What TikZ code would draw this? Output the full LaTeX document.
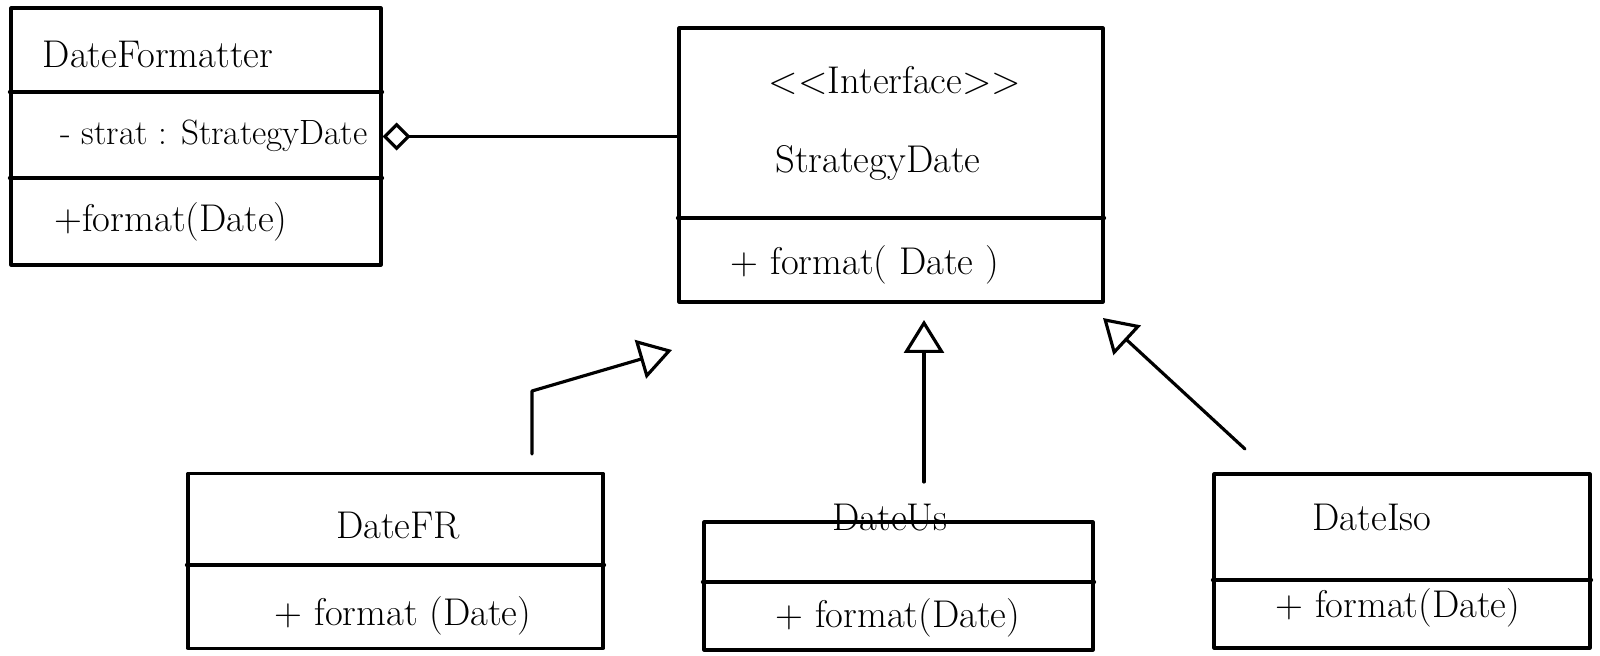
\documentclass[tikz,border=0pt]{standalone}
\usetikzlibrary{arrows.meta}

\begin{document}
\begin{tikzpicture}[x=0.02cm, y=-0.02cm, line width=1.8pt, line cap=round, line join=round,
 cls/.style = {shape=rectangle, draw},
 txt/.style = {font=\fontsize{22}{26}\selectfont},
 real/.style = {-{Triangle[open, length=0.66cm, width=0.8cm]}},
 aggr/.style = {{Diamond[open, length=0.56cm, width=0.56cm]}-}]
 \useasboundingbox (0,0) rectangle (1600,656);

 % classes
 \node (fmt)[cls, minimum width=7.4cm, minimum height=5.14cm] at (196,136.5) {};
 \node (iface)[cls, minimum width=8.48cm, minimum height=5.48cm] at (891,165) {};
 \node (fr)[cls, minimum width=8.3cm, minimum height=3.5cm] at (395.5,561) {};
 \node (us)[cls, minimum width=7.78cm, minimum height=2.56cm] at (898.5,586) {};
 \node (iso)[cls, minimum width=7.52cm, minimum height=3.48cm] at (1402,561) {};

 % compartments
 \draw (fmt.west |- 0,92) -- (fmt.east |- 0,92);
 \draw (fmt.west |- 0,178) -- (fmt.east |- 0,178);
 \draw (iface.west |- 0,218) -- (iface.east |- 0,218);
 \draw (fr.west |- 0,565) -- (fr.east |- 0,565);
 \draw (us.west |- 0,582) -- (us.east |- 0,582);
 \draw (iso.west |- 0,580) -- (iso.east |- 0,580);

 % texts
 \node (fmtname)[txt] at (158,54) {DateFormatter};
 \node (fmtattr)[txt, font=\fontsize{20}{24}\selectfont] at (214,136) {- strat : StrategyDate};
 \node (fmtop)[txt] at (171,222) {+format(Date)};
 \node (ster)[txt] at (895,80) {<{}<Interface>{}>};
 \node (ifname)[txt] at (878,163) {StrategyDate};
 \node (ifop)[txt] at (865,265) {+ format( Date )};
 \node (frname)[txt] at (398,526) {DateFR};
 \node (frop)[txt] at (403,616) {+ format (Date)};
 \node (usname)[txt] at (890,518) {DateUs};
 \node (usop)[txt] at (898,618) {+ format(Date)};
 \node (isoname)[txt] at (1372,517) {DateIso};
 \node (isoop)[txt] at (1398,608) {+ format(Date)};

 % free ends
 \coordinate (frfoot) at (532,454);
 \coordinate (frtip) at (672,350);
 \coordinate (usfoot) at (924,482);
 \coordinate (ustip) at (924,320);
 \coordinate (isofoot) at (1245,449);
 \coordinate (isotip) at (1103,318);

 % relations
 \draw [aggr] (fmt.east) -- (iface.west |- fmt.east);
 \draw [real] (frfoot) -- (frfoot |- 0,391) -- (frtip);
 \draw [real] (usfoot) -- (ustip);
 \draw [real] (isofoot) -- (isotip);
\end{tikzpicture}
\end{document}
